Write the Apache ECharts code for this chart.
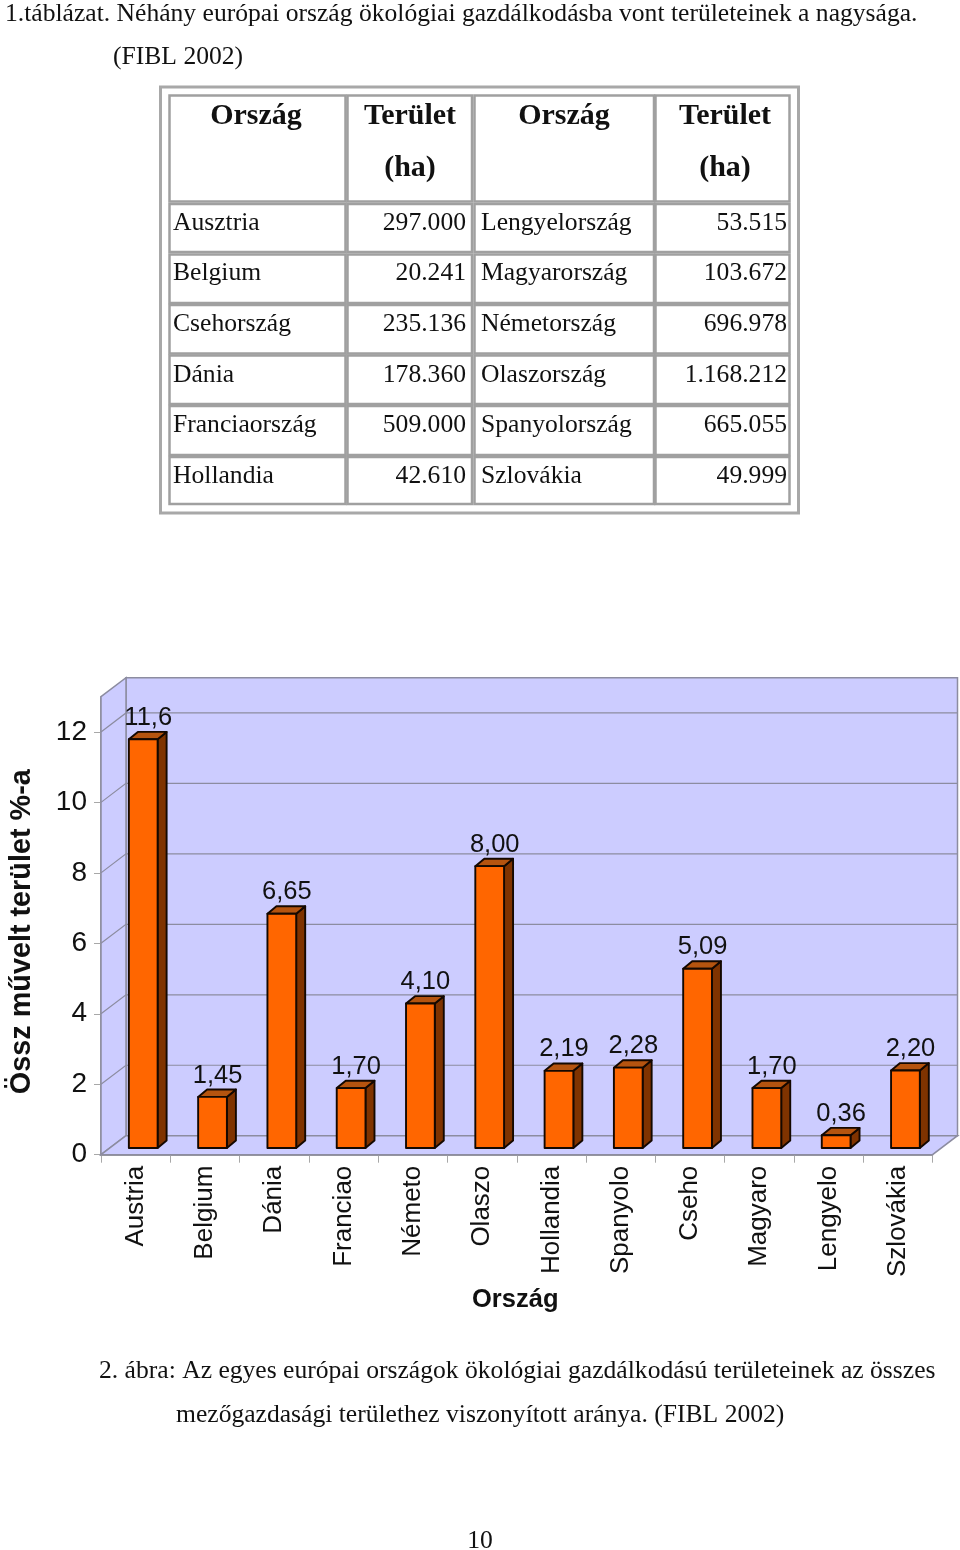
<!DOCTYPE html>
<html><head><meta charset="utf-8">
<style>html,body{margin:0;padding:0;background:#fff}#c{width:960px;height:1550px}</style>
<script src="https://cdn.jsdelivr.net/npm/echarts@6/dist/echarts.min.js"></script>
</head><body><div id="c"></div>
<script>
const categories = ['Austria','Belgium','Dánia','Franciao','Németo','Olaszo','Hollandia','Spanyolo','Cseho','Magyaro','Lengyelo','Szlovákia'];
const shareValues = [11.6,1.45,6.65,1.70,4.10,8.00,2.19,2.28,5.09,1.70,0.36,2.20];
const shareLabels = ['11,6','1,45','6,65','1,70','4,10','8,00','2,19','2,28','5,09','1,70','0,36','2,20'];
const yTicks = [0,2,4,6,8,10,12];
const tableHead = ['Ország','Terület','Ország','Terület'];
const tableHeadUnit = ['', '(ha)', '', '(ha)'];
const countriesLeft = ['Ausztria','Belgium','Csehország','Dánia','Franciaország','Hollandia'];
const areasLeft = ['297.000','20.241','235.136','178.360','509.000','42.610'];
const countriesRight = ['Lengyelország','Magyarország','Németország','Olaszország','Spanyolország','Szlovákia'];
const areasRight = ['53.515','103.672','696.978','1.168.212','665.055','49.999'];

const SERIF = '"Liberation Serif","Times New Roman",serif';
const SANS = '"Liberation Sans",Arial,sans-serif';
const DX = 25, DY = 19;
const WALL = '#CCCCFF', EDGE = '#8C8CA0';

const g = [];
function txt(text, x, y, size, opt) {
  opt = opt || {};
  g.push({type:'text', x:x, y:y, z:10, style:{text:text, fill:'#111', font:(opt.bold?'bold ':'')+size+'px '+SERIF,
    textAlign:opt.align||'left', textVerticalAlign:'middle', verticalAlign:'middle'}});
}
txt('1.táblázat. Néhány európai ország ökológiai gazdálkodásba vont területeinek a nagysága.',5,14,25.6);
txt('(FIBL 2002)',113,57,25.6);
txt('2. ábra: Az egyes európai országok ökológiai gazdálkodású területeinek az összes',99,1371,25.6);
txt('mezőgazdasági területhez viszonyított aránya. (FIBL 2002)',176,1415,25.6);
txt('10',480,1541,25.6,{align:'center'});

// table frame and cells
g.push({type:'rect',z:5,shape:{x:160.5,y:87,width:638,height:426},style:{fill:'#fff',stroke:'#A8A8A8',lineWidth:3}});
const colEdges = [[169.5,345.5],[347.5,472],[474.5,654],[655.5,789.5]];
const rowEdges = [[95.5,201.5],[204,252],[254.5,303],[305,353.5],[355.5,404],[406,455],[457,504]];
rowEdges.forEach(r => colEdges.forEach(c => {
  g.push({type:'rect',z:6,shape:{x:c[0],y:r[0],width:c[1]-c[0],height:r[1]-r[0]},style:{fill:'#fff',stroke:'#A0A0A0',lineWidth:2.5}});
}));
const headX = [256,410,564,725];
tableHead.forEach((t,i)=>{
  txt(t,headX[i],116,30,{bold:true,align:'center'});
  if (tableHeadUnit[i]) txt(tableHeadUnit[i],headX[i],168,30,{bold:true,align:'center'});
});
const rowY = [223,273,324,375,425,476];
rowY.forEach((y,i)=>{
  txt(countriesLeft[i],173,y,25.6);
  txt(areasLeft[i],466,y,25.6,{align:'right'});
  txt(countriesRight[i],481,y,25.6);
  txt(areasRight[i],787,y,25.6,{align:'right'});
});

function wallItem(params, api) {
  const c = params.coordSys, L=c.x, R=c.x+c.width, T=c.y, B=c.y+c.height;
  const st = (fill)=>({fill:fill, stroke:EDGE, lineWidth:1.5});
  const ch = [
    {type:'polygon',shape:{points:[[L+DX,T-DY],[R+DX,T-DY],[R+DX,B-DY],[L+DX,B-DY]]},style:st(WALL)},
    {type:'polygon',shape:{points:[[L,T],[L+DX,T-DY],[L+DX,B-DY],[L,B]]},style:st(WALL)},
    {type:'polygon',shape:{points:[[L,B],[L+DX,B-DY],[R+DX,B-DY],[R,B]]},style:st(WALL)}
  ];
  yTicks.forEach(t=>{
    if (t===0) return;
    const y = api.coord([0,t])[1];
    ch.push({type:'polyline',shape:{points:[[L,y],[L+DX,y-DY],[R+DX,y-DY]]},style:{fill:'none',stroke:EDGE,lineWidth:1.2}});
  });
  return {type:'group',children:ch};
}
function barItem(params, api) {
  const i = api.value(0), v = api.value(1);
  const cw = api.size([1,0])[0];
  const p0 = api.coord([i,0]), p1 = api.coord([i,v]);
  const x0 = p0[0]-0.098*cw, x1 = x0+0.415*cw;
  const lift = 6.7, dx = 9, dy = 7.4;
  const b = p0[1]-lift, t = p1[1]-lift;
  const s = (fill)=>({fill:fill,stroke:'#140800',lineWidth:1.9,lineJoin:'round'});
  return {type:'group',children:[
    {type:'polygon',shape:{points:[[x1,b],[x1+dx,b-dy],[x1+dx,t-dy],[x1,t]]},style:s('#7F3300')},
    {type:'polygon',shape:{points:[[x0,t],[x0+dx,t-dy],[x1+dx,t-dy],[x1,t]]},style:s('#B5540F')},
    {type:'rect',shape:{x:x0,y:t,width:x1-x0,height:b-t},style:s('#FF6600')},
    {type:'text',x:(x0+x1)/2+5,y:t-dy-1,style:{text:shareLabels[params.dataIndex],font:'25.5px '+SANS,fill:'#111',textAlign:'center',textVerticalAlign:'bottom',verticalAlign:'bottom'}}
  ]};
}

const chart = echarts.init(document.getElementById('c'),null,{renderer:'canvas'});
chart.setOption({
  animation:false,
  backgroundColor:'#fff',
  graphic:g,
  grid:{left:101,top:696.7,width:831.5,height:458,containLabel:false,outerBoundsMode:'none'},
  xAxis:{type:'category',data:categories,boundaryGap:true,
    axisLine:{show:true,lineStyle:{color:'#808080',width:1.5}},
    axisTick:{show:true,length:8,alignWithLabel:false,lineStyle:{color:'#a8a8a8'}},
    axisLabel:{interval:0,rotate:90,margin:11,color:'#111',fontFamily:SANS,fontSize:26},
    name:'Ország',nameLocation:'middle',nameGap:132,
    nameTextStyle:{fontFamily:SANS,fontWeight:'bold',fontSize:25.5,color:'#111',padding:[0,3,0,0]}},
  yAxis:{type:'value',min:0,max:13,interval:2,
    splitLine:{show:false},
    axisLine:{show:true,lineStyle:{color:'#808080',width:1.5}},
    axisTick:{show:true,length:7,lineStyle:{color:'#a8a8a8'}},
    axisLabel:{margin:14,color:'#111',fontFamily:SANS,fontSize:28,showMaxLabel:false},
    name:'Össz művelt terület %-a',nameLocation:'middle',nameGap:64,
    nameTextStyle:{fontFamily:SANS,fontWeight:'bold',fontSize:28.8,color:'#111',padding:[0,12,0,0]}},
  series:[
    {type:'custom',z:1,silent:true,clip:false,renderItem:wallItem,data:[[0,0]],encode:{x:0,y:1}},
    {type:'custom',z:3,silent:true,clip:false,renderItem:barItem,encode:{x:0,y:1},
      data:shareValues.map((v,i)=>[i,v])}
  ]
});
</script></body></html>
